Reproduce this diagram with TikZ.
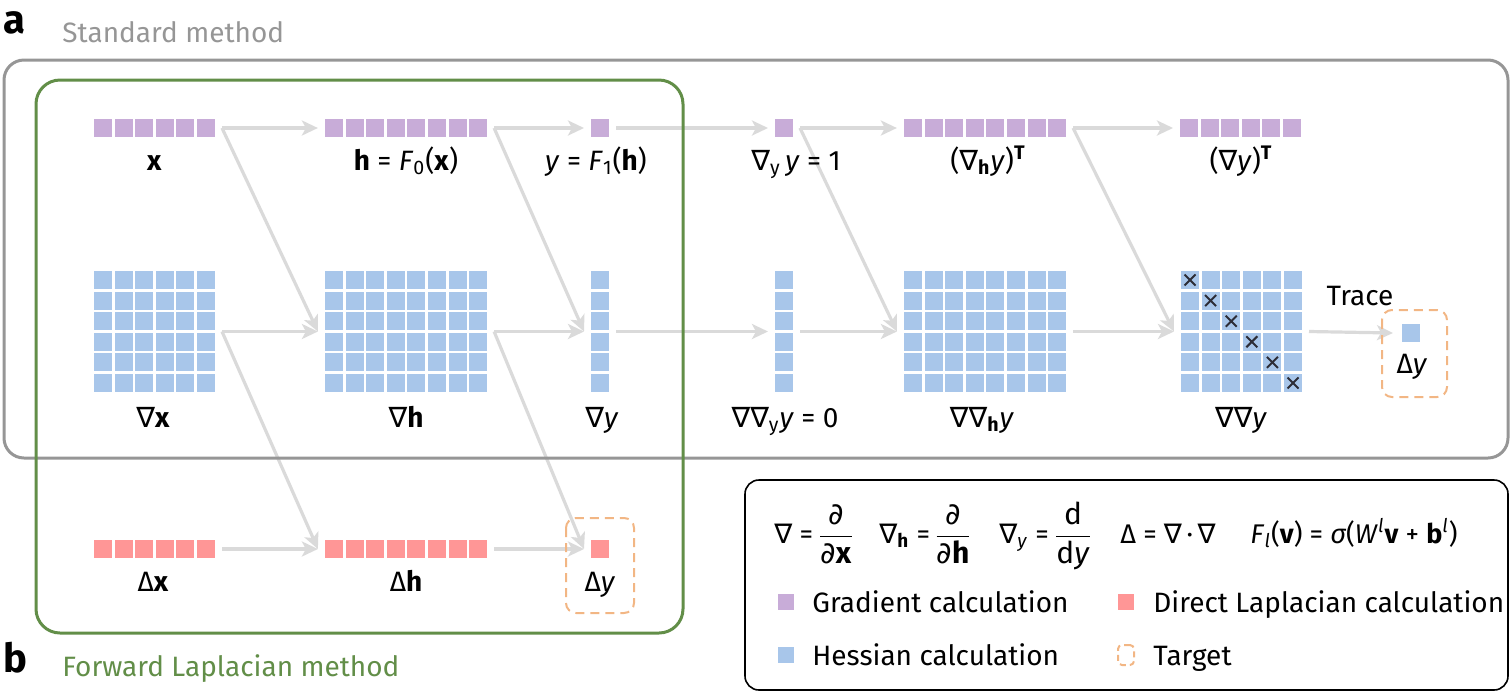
\documentclass[tikz,border=0pt]{standalone}
\usepackage{fontspec}
\setmainfont{Fira Sans}
\newfontfamily\symfont{DejaVu Sans}
\usetikzlibrary{arrows.meta,calc}

\definecolor{gradc}{RGB}{200,172,216}
\definecolor{hessc}{RGB}{168,198,234}
\definecolor{lapc}{RGB}{255,150,150}
\definecolor{targc}{RGB}{242,182,132}
\definecolor{arrc}{RGB}{218,218,218}
\definecolor{stdc}{RGB}{150,150,150}
\definecolor{fwdc}{RGB}{98,142,72}
\definecolor{crossc}{RGB}{45,45,55}

\newcommand{\nb}{{\symfont ∇}}
\newcommand{\pd}{{\symfont ∂}}
\newcommand{\vb}[1]{\textbf{#1}}
\newcommand{\vi}[1]{\textit{#1}}

% array of cells: name, centre, columns, rows, colour
\newcommand{\cells}[5]{%
  \node[cellbox, minimum width={(#3*20.6-2.6)*0.5pt}, minimum height={(#4*20.6-2.6)*0.5pt}] (#1) at (#2) {};
  \foreach \ci in {1,...,#3}{%
    \foreach \rj in {1,...,#4}{%
      \fill[#5] ($(#1.north west)+({(\ci-1)*20.6},{(\rj-1)*20.6})$) rectangle ++(18,18);
    }}}

\tikzset{
  flow/.style={draw=arrc, line width=1.6pt, -{Stealth[length=8pt,width=7.5pt,inset=2pt]}},
  lbl/.style={anchor=base, inner sep=0pt},
  cellbox/.style={inner sep=0pt, outer sep=0pt},
  target/.style={draw=targc, line width=1pt, dash pattern=on 4.5pt off 3pt, rounded corners=5pt},
  crossm/.style={draw=crossc, line width=1pt},
  legsq/.style={inner sep=0pt, minimum size=8pt},
  formula/.style={inner sep=0pt, font=\fontsize{13.5}{16}\selectfont},
  fraction/.style={inner sep=0pt, anchor=base, font=\fontsize{15}{18}\selectfont},
}

\begin{document}
\begin{tikzpicture}[x=0.5pt, y=-0.5pt, font=\fontsize{14}{17}\selectfont, line join=round]
\useasboundingbox (0,0) rectangle (1512,692);

% gradient row
\cells{vx}{154.5,128}{6}{1}{gradc}
\cells{vh}{406,128}{8}{1}{gradc}
\cells{vy}{600,128}{1}{1}{gradc}
\cells{dyy}{784,128}{1}{1}{gradc}
\cells{dhyT}{985,128}{8}{1}{gradc}
\cells{dyT}{1240.5,128}{6}{1}{gradc}

% hessian row
\cells{gx}{154.5,331.5}{6}{6}{hessc}
\cells{gh}{406,331.5}{8}{6}{hessc}
\cells{gy}{600,331.5}{1}{6}{hessc}
\cells{ggyy}{784,331.5}{1}{6}{hessc}
\cells{gghy}{985,331.5}{8}{6}{hessc}
\cells{ggy}{1241.5,331.5}{6}{6}{hessc}
\cells{ty}{1411,333}{1}{1}{hessc}
\foreach \k in {0,...,5}
  \draw[crossm] ($(ggy.north west)+({\k*20.6+9},{\k*20.6+9})$) +(-5.5,-5.5) -- +(5.5,5.5) +(-5.5,5.5) -- +(5.5,-5.5);

% laplacian row
\cells{lx}{154.5,549}{6}{1}{lapc}
\cells{lh}{406,549}{8}{1}{lapc}
\cells{ly}{600,549}{1}{1}{lapc}

% connectors
\foreach \src/\dst in {vx/vh, vh/vy, vy/dyy, dyy/dhyT, dhyT/dyT, gx/gh, gh/gy, gy/ggyy, ggyy/gghy, gghy/ggy, lx/lh, lh/ly,
                       vx/gh, vh/gy, dyy/gghy, dhyT/ggy, gx/lh, gh/ly}
  \draw[flow] ([xshift=3.5pt]\src.east) -- ([xshift=-3.5pt]\dst.west);
\draw[flow] ([xshift=3.5pt]ggy.east) -- ([xshift=-4.5pt]ty.west);
\node[lbl] (tr) at (1360,305) {Trace};

% targets
\draw[target] (1382,310) rectangle (1447,397);
\draw[target] (566,518) rectangle (634,613);

% labels
\node[lbl] (vxl) at (154.5,170) {\vb{x}};
\node[lbl] (vhl) at (406,170) {\vb{h} = \vi{F}\textsubscript{0}(\vb{x})};
\node[lbl] (vyl) at (596,170) {\vi{y} = \vi{F}\textsubscript{1}(\vb{h})};
\node[lbl] (dyyl) at (796,170) {\nb\textsubscript{y}\,\vi{y} = 1};
\node[lbl] (dhyTl) at (988,170) {(\nb\textsubscript{\vb{h}}\vi{y})\textsuperscript{\vb{T}}};
\node[lbl] (dyTl) at (1241,170) {(\nb\vi{y})\textsuperscript{\vb{T}}};
\node[lbl] (gxl) at (153,427) {\nb\vb{x}};
\node[lbl] (ghl) at (406,427) {\nb\vb{h}};
\node[lbl] (gyl) at (602,427) {\nb\vi{y}};
\node[lbl] (ggyyl) at (785,427) {\nb\nb\textsubscript{y}\vi{y} = 0};
\node[lbl] (gghyl) at (982,427) {\nb\nb\textsubscript{\vb{h}}\vi{y}};
\node[lbl] (ggyl) at (1241,427) {\nb\nb\vi{y}};
\node[lbl] (tyl) at (1412,373) {Δ\vi{y}};
\node[lbl] (lxl) at (153,591) {Δ\vb{x}};
\node[lbl] (lhl) at (406,591) {Δ\vb{h}};
\node[lbl] (lyl) at (600,591) {Δ\vi{y}};

% frames
\draw[stdc, line width=1.5pt, rounded corners=10pt] (4,60) rectangle (1508,458);
\draw[fwdc, line width=1.5pt, rounded corners=12pt] (36,80) rectangle (683,633);
\node[anchor=base west, inner sep=0pt, font=\bfseries\fontsize{20}{20}\selectfont] (pa) at (3,33) {a};
\node[anchor=base west, inner sep=0pt, text=stdc] (sm) at (62,42) {Standard method};
\node[anchor=base west, inner sep=0pt, font=\bfseries\fontsize{20}{20}\selectfont] (pb) at (3,672) {b};
\node[anchor=base west, inner sep=0pt, text=fwdc] (fm) at (62,676) {Forward Laplacian method};

% legend
\draw[black, line width=0.8pt, rounded corners=7pt] (745,480) rectangle (1508,690);
\node[formula, anchor=base west] (f1) at (774,543) {\nb{} =};
\node[fraction] (f1f) at (836,544) {$\displaystyle\frac{\mbox{\pd}}{\mbox{\pd\vb{x}}}$};
\node[formula, anchor=base west] (f2) at (879,543) {\nb\textsubscript{\vb{h}} =};
\node[fraction] (f2f) at (953,544) {$\displaystyle\frac{\mbox{\pd}}{\mbox{\pd\vb{h}}}$};
\node[formula, anchor=base west] (f3) at (999,543) {\nb\textsubscript{\vi{y}} =};
\node[fraction] (f3f) at (1073,544) {$\displaystyle\frac{\mbox{d}}{\mbox{d\vi{y}}}$};
\node[formula, anchor=base] (f4) at (1168,543) {Δ = \nb{}\,·\,\nb};
\node[formula, anchor=base east] (f5) at (1458,543) {\vi{F}\textsubscript{\vi{l}}(\vb{v}) = \vi{σ}(\vi{W}\textsuperscript{\vi{l}}\vb{v} + \vb{b}\textsuperscript{\vi{l}})};
\node[legsq, fill=gradc] (lg) at (786,602) {};
\node[anchor=base west, inner sep=0pt] (lgt) at (812,612) {Gradient calculation};
\node[legsq, fill=hessc] (lhs) at (786,655) {};
\node[anchor=base west, inner sep=0pt] (lhst) at (812,665) {Hessian calculation};
\node[legsq, fill=lapc] (llp) at (1126,602) {};
\node[anchor=base west, inner sep=0pt] (llpt) at (1153,612) {Direct Laplacian calculation};
\node[legsq, target, minimum height=10pt, rounded corners=2pt, dash pattern=on 3pt off 2pt] (ltg) at (1126,655) {};
\node[anchor=base west, inner sep=0pt] (ltgt) at (1153,665) {Target};
\end{tikzpicture}
\end{document}
